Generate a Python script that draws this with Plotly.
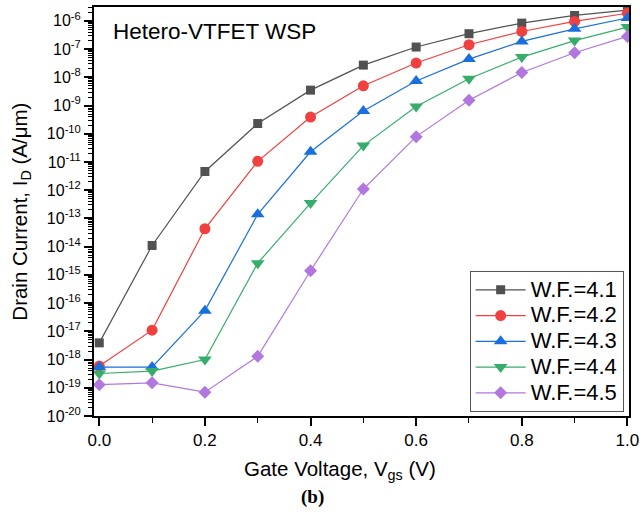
import plotly.graph_objects as go

vgs = [0.0, 0.1, 0.2, 0.3, 0.4, 0.5, 0.6, 0.7, 0.8, 0.9, 1.0]

id_wf41 = [3.9e-18, 1.1e-14, 4.6e-12, 2.3e-10, 3.5e-9, 2.7e-8, 1.18e-7, 3.5e-7, 8.3e-7, 1.55e-6, 2.4e-6]
id_wf42 = [5.9e-19, 1.1e-17, 4.3e-14, 1.05e-11, 3.9e-10, 5.0e-9, 3.2e-8, 1.42e-7, 4.2e-7, 9.5e-7, 1.86e-6]
id_wf43 = [5.4e-19, 5.4e-19, 5.4e-17, 1.4e-13, 2.3e-11, 6.4e-10, 7.4e-9, 4.4e-8, 1.87e-7, 5.2e-7, 1.26e-6]
id_wf44 = [3.2e-19, 3.9e-19, 1.0e-18, 2.6e-15, 3.5e-13, 3.8e-11, 9.3e-10, 8.9e-9, 5.2e-8, 2.0e-7, 6.0e-7]
id_wf45 = [1.29e-19, 1.5e-19, 7.0e-20, 1.3e-18, 1.4e-15, 1.1e-12, 7.9e-11, 1.55e-9, 1.47e-8, 7.4e-8, 2.8e-7]

series_names = ["W.F.=4.1", "W.F.=4.2", "W.F.=4.3", "W.F.=4.4", "W.F.=4.5"]
series_values = [id_wf41, id_wf42, id_wf43, id_wf44, id_wf45]
colors = ["#515151", "#F14040", "#1A6FDF", "#37AD6B", "#B177DE"]
symbols = ["square", "circle", "triangle-up", "triangle-down", "diamond"]
sizes = [9, 11, 12, 12, 10]

x_tickvals = [0.0, 0.2, 0.4, 0.6, 0.8, 1.0]
x_ticktext = ["0.0", "0.2", "0.4", "0.6", "0.8", "1.0"]
y_exponents = list(range(-20, -5))
y_tickvals = [10.0 ** e for e in y_exponents]
y_ticktext = ["10<sup>%d</sup>" % e for e in y_exponents]
y_minor = [m * 10.0 ** e for e in range(-20, -5) for m in range(2, 10)]

FONT = "Liberation Sans, Arial, sans-serif"

fig = go.Figure()
for name, vals, c, s, sz in zip(series_names, series_values, colors, symbols, sizes):
    fig.add_trace(go.Scatter(
        x=vgs, y=vals, name='<span style="font-size:22px">%s</span>' % name,
        mode="lines+markers",
        line=dict(color=c, width=1.2),
        marker=dict(symbol=s, size=sz, color=c, line=dict(width=0)),
    ))

fig.update_layout(
    width=644, height=516, autosize=False,
    margin=dict(l=94, r=13, t=5, b=100),
    paper_bgcolor="white", plot_bgcolor="white",
    font=dict(family=FONT, color="black", size=16),
    showlegend=True,
    legend=dict(
        x=0.99, y=0.01, xanchor="right", yanchor="bottom",
        bgcolor="white", bordercolor="#555555", borderwidth=1,
        font=dict(family=FONT, size=17.5, color="black"),
        tracegroupgap=0, itemwidth=50,
    ),
)

fig.update_xaxes(
    range=[-0.01, 1.003],
    tickmode="array", tickvals=x_tickvals, ticktext=x_ticktext,
    ticks="outside", ticklen=8, tickwidth=1.5, tickcolor="black",
    tickfont=dict(family=FONT, size=17, color="black"),
    minor=dict(ticks="outside", ticklen=5, tickwidth=1, tickcolor="black", dtick=0.1, tick0=0, showgrid=False),
    showline=True, linecolor="black", linewidth=2, mirror=True,
    showgrid=False, zeroline=False,
)

fig.update_yaxes(
    type="log", range=[-20, -5.51],
    tickmode="array", tickvals=y_tickvals, ticktext=y_ticktext,
    ticks="outside", ticklen=8, tickwidth=1.5, tickcolor="black",
    tickfont=dict(family=FONT, size=16, color="black"),
    minor=dict(ticks="outside", ticklen=4, tickwidth=1, tickcolor="black",
               tickmode="array", tickvals=y_minor, showgrid=False),
    showline=True, linecolor="black", linewidth=2, mirror=True,
    showgrid=False, zeroline=False,
)

fig.add_annotation(
    text="Hetero-VTFET WSP", xref="paper", yref="paper",
    x=0.032, y=0.94, xanchor="left", yanchor="middle", showarrow=False,
    font=dict(family=FONT, size=22.5, color="black"),
)
fig.add_annotation(
    text="Drain Current, I<sub>D</sub> (A/μm)", xref="paper", yref="paper",
    x=-0.138, y=0.5, xanchor="center", yanchor="middle", textangle=-90, showarrow=False,
    font=dict(family=FONT, size=20.5, color="black"),
)
fig.add_annotation(
    text="Gate Voltage, V<sub>gs</sub> (V)", xref="paper", yref="paper",
    x=(340.5 - 94) / 537, y=(416 - 470) / 411, xanchor="center", yanchor="middle", showarrow=False,
    font=dict(family=FONT, size=20.5, color="black"),
)
fig.add_annotation(
    text="<b>(b)</b>", xref="paper", yref="paper",
    x=(313 - 94) / 537, y=(416 - 497) / 411, xanchor="center", yanchor="middle", showarrow=False,
    font=dict(family="Liberation Serif, Times New Roman, serif", size=19, color="black"),
)

fig.write_html("out.html")
